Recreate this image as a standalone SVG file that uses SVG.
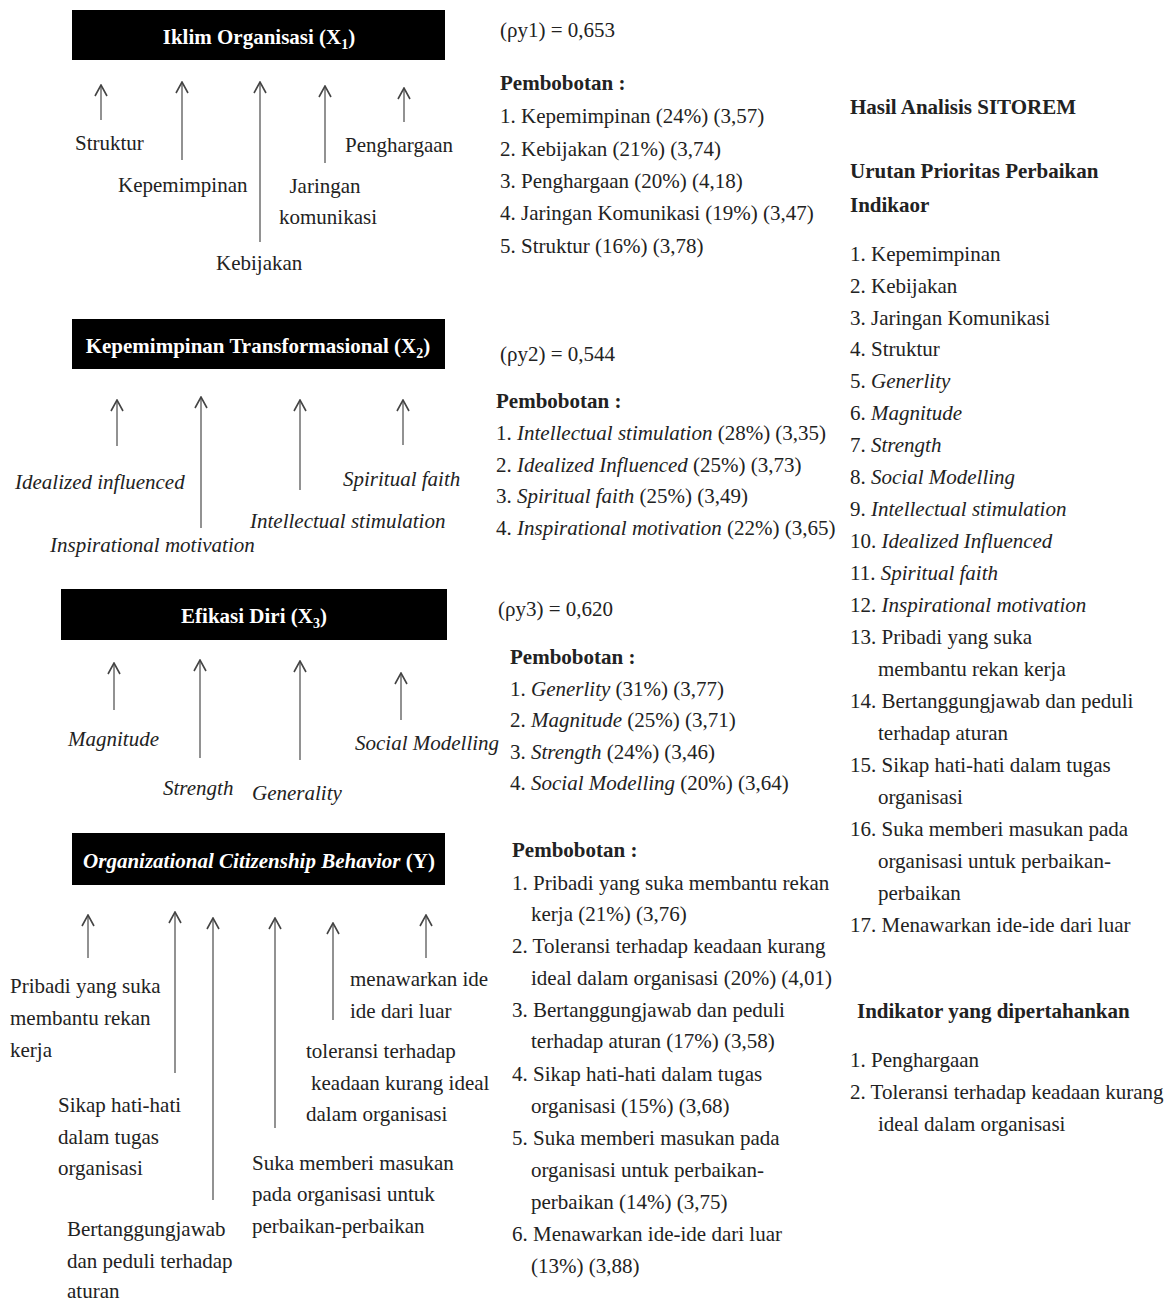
<svg xmlns="http://www.w3.org/2000/svg" width="1170" height="1302" viewBox="0 0 1170 1302">
<style>
text{font-family:"Liberation Serif","Times New Roman",serif;font-size:21px;fill:#222}
.t{fill:#fff;font-weight:bold;font-size:21px}
.b{font-weight:bold}
.i{font-style:italic}
.box{fill:#000}
.ar{stroke:#777;stroke-width:1.6;fill:none}
</style>
<defs>
<marker id="ah" viewBox="-1 -8 13 16" markerWidth="13" markerHeight="16" refX="11" refY="0" orient="auto" markerUnits="userSpaceOnUse">
<path d="M0,-6 L11,0 L0,6" fill="none" stroke="#444" stroke-width="1.6"/>
</marker>
</defs>
<rect width="1170" height="1302" fill="#fff"/>

<g id="node-x1">
<rect class="box" x="72" y="10" width="373" height="50"/>
<text class="t" x="259" y="44" text-anchor="middle">Iklim Organisasi (X<tspan font-size="14" dy="5">1</tspan><tspan dy="-5">)</tspan></text>
</g>
<g id="node-x2">
<rect class="box" x="72" y="319" width="373" height="50"/>
<text class="t" x="258" y="353" text-anchor="middle">Kepemimpinan Transformasional (X<tspan font-size="14" dy="5">2</tspan><tspan dy="-5">)</tspan></text>
</g>
<g id="node-x3">
<rect class="box" x="61" y="589" width="386" height="51"/>
<text class="t" x="254" y="623" text-anchor="middle">Efikasi Diri (X<tspan font-size="14" dy="5">3</tspan><tspan dy="-5">)</tspan></text>
</g>
<g id="node-y">
<rect class="box" x="72" y="833" width="373" height="52"/>
<text class="t" x="259" y="868" text-anchor="middle"><tspan font-style="italic">Organizational Citizenship Behavior</tspan> (Y)</text>
</g>

<g id="connectors">
<line class="ar" x1="101" y1="120" x2="101" y2="85" marker-end="url(#ah)"/>
<line class="ar" x1="182" y1="160" x2="182" y2="82" marker-end="url(#ah)"/>
<line class="ar" x1="260" y1="242" x2="260" y2="82" marker-end="url(#ah)"/>
<line class="ar" x1="325" y1="163" x2="325" y2="86" marker-end="url(#ah)"/>
<line class="ar" x1="404" y1="122" x2="404" y2="88" marker-end="url(#ah)"/>

<line class="ar" x1="117" y1="446" x2="117" y2="400" marker-end="url(#ah)"/>
<line class="ar" x1="201" y1="528" x2="201" y2="397" marker-end="url(#ah)"/>
<line class="ar" x1="300" y1="490" x2="300" y2="400" marker-end="url(#ah)"/>
<line class="ar" x1="403" y1="445" x2="403" y2="400" marker-end="url(#ah)"/>

<line class="ar" x1="114" y1="710" x2="114" y2="663" marker-end="url(#ah)"/>
<line class="ar" x1="200" y1="758" x2="200" y2="660" marker-end="url(#ah)"/>
<line class="ar" x1="300" y1="760" x2="300" y2="661" marker-end="url(#ah)"/>
<line class="ar" x1="401" y1="720" x2="401" y2="673" marker-end="url(#ah)"/>

<line class="ar" x1="88" y1="958" x2="88" y2="915" marker-end="url(#ah)"/>
<line class="ar" x1="175" y1="1073" x2="175" y2="912" marker-end="url(#ah)"/>
<line class="ar" x1="213" y1="1200" x2="213" y2="918" marker-end="url(#ah)"/>
<line class="ar" x1="275" y1="1128" x2="275" y2="918" marker-end="url(#ah)"/>
<line class="ar" x1="333" y1="1020" x2="333" y2="923" marker-end="url(#ah)"/>
<line class="ar" x1="426" y1="958" x2="426" y2="915" marker-end="url(#ah)"/>
</g>

<g id="labels-x1">
<text x="75" y="150">Struktur</text>
<text x="118" y="192">Kepemimpinan</text>
<text x="216" y="270">Kebijakan</text>
<text x="325" y="193" text-anchor="middle">Jaringan</text>
<text x="279" y="224">komunikasi</text>
<text x="345" y="152">Penghargaan</text>
</g>
<g id="labels-x2" class="i">
<text class="i" x="15" y="489">Idealized influenced</text>
<text class="i" x="50" y="552">Inspirational motivation</text>
<text class="i" x="250" y="528">Intellectual stimulation</text>
<text class="i" x="343" y="486">Spiritual faith</text>
</g>
<g id="labels-x3">
<text class="i" x="68" y="746">Magnitude</text>
<text class="i" x="163" y="795">Strength</text>
<text class="i" x="252" y="800">Generality</text>
<text class="i" x="355" y="750">Social Modelling</text>
</g>
<g id="labels-y">
<text x="10" y="993">Pribadi yang suka</text>
<text x="10" y="1025">membantu rekan</text>
<text x="10" y="1057">kerja</text>
<text x="58" y="1112">Sikap hati-hati</text>
<text x="58" y="1144">dalam tugas</text>
<text x="58" y="1175">organisasi</text>
<text x="67" y="1236">Bertanggungjawab</text>
<text x="67" y="1268">dan peduli terhadap</text>
<text x="67" y="1298">aturan</text>
<text x="252" y="1170">Suka memberi masukan</text>
<text x="252" y="1201">pada organisasi untuk</text>
<text x="252" y="1233">perbaikan-perbaikan</text>
<text x="306" y="1058">toleransi terhadap</text>
<text x="311" y="1090">keadaan kurang ideal</text>
<text x="306" y="1121">dalam organisasi</text>
<text x="350" y="986">menawarkan ide</text>
<text x="350" y="1018">ide dari luar</text>
</g>

<g id="weights-x1">
<text x="500" y="37">(ρy1) = 0,653</text>
<text class="b" x="500" y="90">Pembobotan :</text>
<text x="500" y="123">1. Kepemimpinan (24%) (3,57)</text>
<text x="500" y="156">2. Kebijakan (21%) (3,74)</text>
<text x="500" y="188">3. Penghargaan (20%) (4,18)</text>
<text x="500" y="220">4. Jaringan Komunikasi (19%) (3,47)</text>
<text x="500" y="253">5. Struktur (16%) (3,78)</text>
</g>
<g id="weights-x2">
<text x="500" y="361">(ρy2) = 0,544</text>
<text class="b" x="496" y="408">Pembobotan :</text>
<text x="496" y="440">1. <tspan font-style="italic">Intellectual stimulation</tspan> (28%) (3,35)</text>
<text x="496" y="472">2. <tspan font-style="italic">Idealized Influenced</tspan> (25%) (3,73)</text>
<text x="496" y="503">3. <tspan font-style="italic">Spiritual faith</tspan>  (25%) (3,49)</text>
<text x="496" y="535">4. <tspan font-style="italic">Inspirational motivation</tspan> (22%) (3,65)</text>
</g>
<g id="weights-x3">
<text x="498" y="616">(ρy3) = 0,620</text>
<text class="b" x="510" y="664">Pembobotan :</text>
<text x="510" y="696">1. <tspan font-style="italic">Generlity</tspan> (31%) (3,77)</text>
<text x="510" y="727">2. <tspan font-style="italic">Magnitude</tspan> (25%) (3,71)</text>
<text x="510" y="759">3. <tspan font-style="italic">Strength</tspan> (24%) (3,46)</text>
<text x="510" y="790">4. <tspan font-style="italic">Social Modelling</tspan> (20%) (3,64)</text>
</g>
<g id="weights-y">
<text class="b" x="512" y="857">Pembobotan :</text>
<text x="512" y="890">1. Pribadi yang  suka membantu rekan</text>
<text x="531" y="921">kerja (21%) (3,76)</text>
<text x="512" y="953">2. Toleransi terhadap keadaan kurang</text>
<text x="531" y="985">ideal dalam organisasi (20%) (4,01)</text>
<text x="512" y="1017">3. Bertanggungjawab  dan peduli</text>
<text x="531" y="1048">terhadap aturan (17%) (3,58)</text>
<text x="512" y="1081">4. Sikap hati-hati dalam tugas</text>
<text x="531" y="1113">organisasi (15%) (3,68)</text>
<text x="512" y="1145">5. Suka memberi masukan pada</text>
<text x="531" y="1177">organisasi untuk perbaikan-</text>
<text x="531" y="1209">perbaikan (14%) (3,75)</text>
<text x="512" y="1241">6. Menawarkan  ide-ide dari luar</text>
<text x="531" y="1273">(13%) (3,88)</text>
</g>

<g id="sitorem">
<text class="b" x="850" y="114">Hasil Analisis SITOREM</text>
<text class="b" x="850" y="178">Urutan Prioritas Perbaikan</text>
<text class="b" x="850" y="212">Indikaor</text>
<text x="850" y="261">1. Kepemimpinan</text>
<text x="850" y="293">2. Kebijakan</text>
<text x="850" y="325">3. Jaringan Komunikasi</text>
<text x="850" y="356">4. Struktur</text>
<text x="850" y="388">5. <tspan font-style="italic">Generlity</tspan></text>
<text x="850" y="420">6. <tspan font-style="italic">Magnitude</tspan></text>
<text x="850" y="452">7. <tspan font-style="italic">Strength</tspan></text>
<text x="850" y="484">8. <tspan font-style="italic">Social Modelling</tspan></text>
<text x="850" y="516">9. <tspan font-style="italic">Intellectual stimulation</tspan></text>
<text x="850" y="548">10. <tspan font-style="italic">Idealized Influenced</tspan></text>
<text x="850" y="580">11. <tspan font-style="italic">Spiritual faith</tspan></text>
<text x="850" y="612">12. <tspan font-style="italic">Inspirational motivation</tspan></text>
<text x="850" y="644">13. Pribadi yang  suka</text>
<text x="878" y="676">membantu rekan kerja</text>
<text x="850" y="708">14. Bertanggungjawab  dan peduli</text>
<text x="878" y="740">terhadap aturan</text>
<text x="850" y="772">15. Sikap hati-hati dalam tugas</text>
<text x="878" y="804">organisasi</text>
<text x="850" y="836">16. Suka memberi masukan pada</text>
<text x="878" y="868">organisasi untuk perbaikan-</text>
<text x="878" y="900">perbaikan</text>
<text x="850" y="932">17. Menawarkan  ide-ide dari luar</text>
</g>
<g id="dipertahankan">
<text class="b" x="857" y="1018">Indikator yang dipertahankan</text>
<text x="850" y="1067">1.  Penghargaan</text>
<text x="850" y="1099">2.  Toleransi terhadap keadaan kurang</text>
<text x="878" y="1131">ideal dalam organisasi</text>
</g>
</svg>
